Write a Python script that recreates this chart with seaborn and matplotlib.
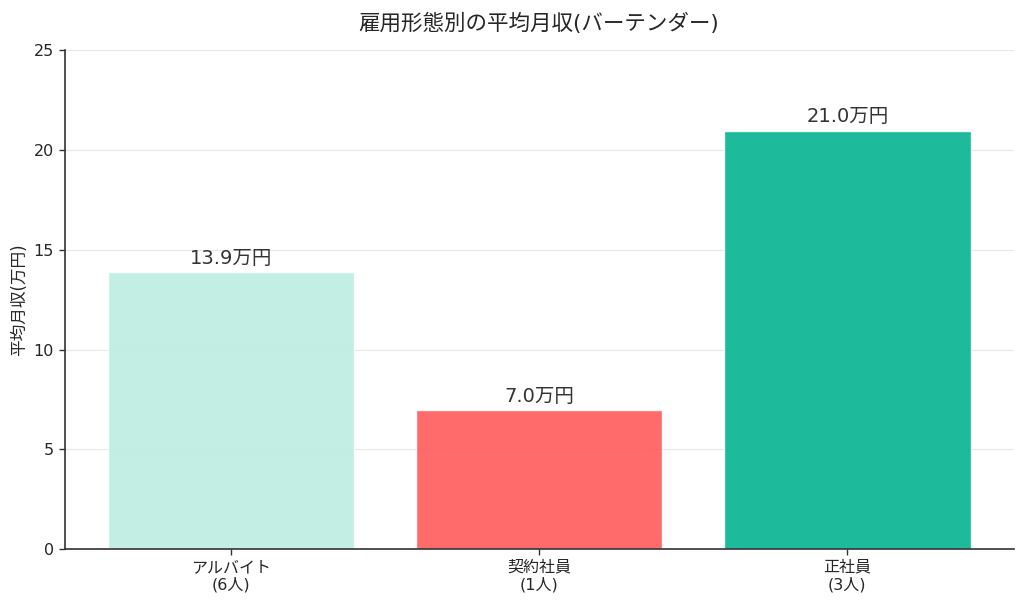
import numpy as np
import pandas as pd
import seaborn as sns
import matplotlib.pyplot as plt

# Data
categories = ['アルバイト\n(6人)', '契約社員\n(1人)', '正社員\n(3人)']
avg_income = [13.86, 6.96, 20.96]  # 万円
bar_colors = ['#bdede1', '#ff5a5a', '#04b491']


def main():
    sns.set_style('white')
    plt.rcParams['font.family'] = ['DejaVu Sans', 'Noto Sans CJK JP']

    df = pd.DataFrame({'type': categories, 'income': avg_income})

    fig, ax = plt.subplots(figsize=(10.24, 6.07), dpi=100)
    sns.barplot(data=df, x='type', y='income', hue='type', palette=bar_colors,
                saturation=1, width=0.8, edgecolor='white', linewidth=1,
                alpha=0.9, legend=False, ax=ax)

    # value labels above bars
    for p, v in zip(ax.patches, avg_income):
        ax.annotate(f'{v:.1f}万円', (p.get_x() + p.get_width() / 2, p.get_height()),
                    xytext=(0, 3), textcoords='offset points',
                    ha='center', va='bottom', fontsize=14, color='#333333')

    ax.set_xlim(-0.54, 2.54)
    ax.set_ylim(0, 25)
    ax.set_yticks([0, 5, 10, 15, 20, 25])
    ax.grid(axis='y', color='#dddddd', alpha=0.7, linewidth=0.8)
    ax.set_axisbelow(True)
    ax.tick_params(axis='both', length=4, width=1, labelsize=11.5, color='#333333', left=True, bottom=True)
    ax.set_xlabel('')
    ax.set_ylabel('平均月収(万円)', fontsize=12)
    ax.set_title('雇用形態別の平均月収(バーテンダー)', fontsize=15.5, pad=14)
    sns.despine(ax=ax)
    for s in ['left', 'bottom']:
        ax.spines[s].set_color('#333333')
        ax.spines[s].set_linewidth(1.2)

    fig.subplots_adjust(left=0.063, right=0.99, top=0.918, bottom=0.095)
    fig.savefig('out.png', dpi=100)


if __name__ == "__main__":
    main()
